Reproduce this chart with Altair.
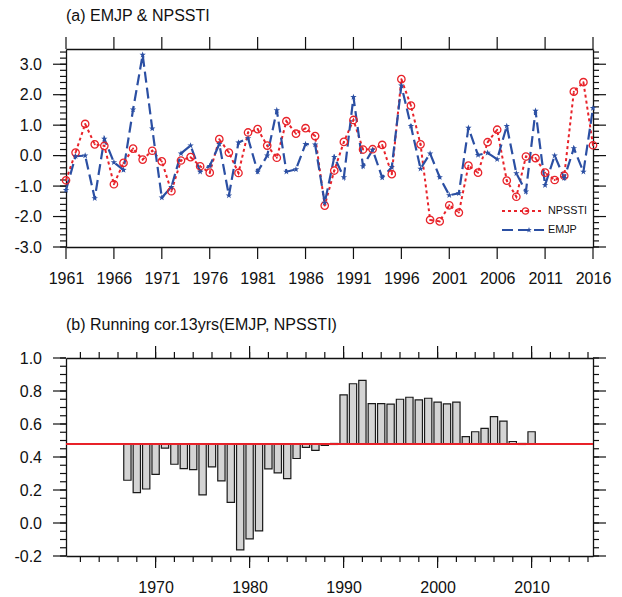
import altair as alt
import pandas as pd

# ---------------- data ----------------
years = list(range(1961, 2017))
npssti = [-0.81, 0.10, 1.04, 0.37, 0.32, -0.94, -0.24, 0.23, -0.13, 0.16,
          -0.19, -1.17, -0.16, -0.05, -0.35, -0.56, 0.54, 0.10, -0.57, 0.76,
          0.87, 0.33, -0.07, 1.13, 0.72, 0.90, 0.64, -1.64, -0.49, 0.45,
          1.17, 0.20, 0.21, 0.35, -0.61, 2.51, 1.64, 0.37, -2.11, -2.16,
          -1.63, -1.87, -0.33, -0.56, 0.44, 0.85, -0.82, -1.35, -0.03, -0.08,
          -0.56, -0.80, -0.66, 2.10, 2.41, 0.34]
emjp = [-1.13, -0.02, 0.00, -1.40, 0.55, -0.22, -0.47, 1.51, 3.31, 0.89,
        -1.38, -1.03, 0.07, 0.33, -0.53, -0.34, 0.38, -1.31, 0.43, 0.57,
        -0.53, 0.00, 1.49, -0.53, -0.45, 0.38, 0.36, -1.55, -0.05, -0.71,
        1.92, -0.35, 0.19, -0.72, -0.38, 2.30, 0.97, -0.43, 0.07, -0.71,
        -1.30, -1.24, 0.91, 0.02, 0.09, -0.12, 0.97, -0.58, -1.18, 1.47,
        -0.97, 0.00, -0.74, 0.24, -0.53, 1.56]

cor_years = list(range(1967, 2011))
cor_values = [0.259, 0.184, 0.206, 0.295, 0.454, 0.356, 0.330, 0.324, 0.170, 0.340,
              0.255, 0.125, -0.163, -0.096, -0.048, 0.328, 0.304, 0.269, 0.391, 0.458,
              0.440, 0.470, 0.482, 0.777, 0.844, 0.864, 0.724, 0.724, 0.720, 0.750,
              0.762, 0.746, 0.756, 0.732, 0.722, 0.732, 0.523, 0.553, 0.574, 0.645,
              0.618, 0.494, 0.482, 0.553]
threshold = 0.476

top_xticks = list(range(1961, 2017, 5))
top_ymajor = [-3.0, -2.0, -1.0, 0.0, 1.0, 2.0, 3.0]
top_yminor = [round(-3.0 + 0.2 * i, 1) for i in range(33)]
bot_xmajor = [1970, 1980, 1990, 2000, 2010]
bot_xminor = list(range(1962, 2017, 2))
bot_ymajor = [-0.2, 0.0, 0.2, 0.4, 0.6, 0.8, 1.0]
bot_yminor = [round(-0.2 + 0.05 * i, 2) for i in range(25)]

title_a = "(a) EMJP & NPSSTI"
title_b = "(b) Running cor.13yrs(EMJP, NPSSTI)"
legend_labels = ["NPSSTI", "EMJP"]

RED = "#e8232a"
BLUE = "#2b4fa3"
STAR = "M0,-1L0.235,-0.324L0.951,-0.309L0.38,0.124L0.588,0.809L0,0.4L-0.588,0.809L-0.38,0.124L-0.951,-0.309L-0.235,-0.324Z"
FONT = "Liberation Sans"
INK = "#111111"

df = pd.DataFrame({"year": years, "npssti": npssti, "emjp": emjp})
cdf = pd.DataFrame({"year": cor_years, "cor": cor_values,
                    "base": [threshold] * len(cor_years)})

W, H = 527, 198
MAJX, MAJY, MIN = 12, 13, 6
YLAB = "(datum.value < -0.0001 ? '-' : '') + format(abs(datum.value), '.1f')"


def axis(orient, labels=False, **kw):
    args = dict(orient=orient, title=None, grid=False, ticks=False,
                domain=True, domainWidth=1.3, domainColor=INK, labels=labels)
    if labels:
        args.update(labelFontSize=16, labelFont=FONT, labelColor=INK,
                    labelOverlap=False, labelFlush=False)
    args.update(kw)
    return alt.Axis(**args)


def ticks(values, scale, side, length, height):
    """Outward tick marks placed through the chart's own scale."""
    d = alt.Chart(pd.DataFrame({"v": values})).mark_rule(color=INK, strokeWidth=1.2)
    if side == "bottom":
        return d.encode(x=alt.X("v:Q", scale=scale, axis=None),
                        y=alt.value(height), y2=alt.value(height + length))
    if side == "top":
        return d.encode(x=alt.X("v:Q", scale=scale, axis=None),
                        y=alt.value(0), y2=alt.value(-length))
    if side == "left":
        return d.encode(y=alt.Y("v:Q", scale=scale, axis=None),
                        x=alt.value(0), x2=alt.value(-length))
    return d.encode(y=alt.Y("v:Q", scale=scale, axis=None),
                    x=alt.value(W), x2=alt.value(W + length))


# ---------------- top panel ----------------
xs_top = alt.Scale(domain=[1961, 2016], nice=False, zero=False)
ys_top = alt.Scale(domain=[-3.0, 3.5], nice=False, zero=False)

base_top = alt.Chart(df)
enc_red = dict(x=alt.X("year:Q", scale=xs_top, axis=None),
               y=alt.Y("npssti:Q", scale=ys_top, axis=None))
enc_blue = dict(x=alt.X("year:Q", scale=xs_top, axis=None),
                y=alt.Y("emjp:Q", scale=ys_top, axis=None))

frame_top_a = base_top.mark_point(opacity=0).encode(
    x=alt.X("year:Q", scale=xs_top,
            axis=axis("bottom", labels=True, values=top_xticks, format="d", labelPadding=23)),
    y=alt.Y("npssti:Q", scale=ys_top,
            axis=axis("left", labels=True, values=top_ymajor, labelExpr=YLAB,
                      labelPadding=24.5, minExtent=53, maxExtent=53)))
frame_top_b = base_top.mark_point(opacity=0).encode(
    x=alt.X("year:Q", scale=xs_top, axis=axis("top", values=top_xticks)),
    y=alt.Y("npssti:Q", scale=ys_top, axis=axis("right", values=top_ymajor)))

top_ticks = [
    ticks(top_xticks, xs_top, "bottom", MAJX, H),
    ticks(top_xticks, xs_top, "top", MAJX, H),
    ticks(top_ymajor, ys_top, "left", MAJY, H),
    ticks(top_ymajor, ys_top, "right", MAJY, H),
    ticks(top_yminor, ys_top, "left", MIN, H),
    ticks(top_yminor, ys_top, "right", MIN, H),
]

red_line = base_top.mark_line(color=RED, strokeDash=[3, 3], strokeWidth=2).encode(**enc_red)
red_circ = base_top.mark_point(shape="circle", filled=False, size=55, color=RED,
                               strokeWidth=1.3, opacity=1).encode(**enc_red)
red_dot = base_top.mark_point(shape="circle", filled=True, size=4, color=RED,
                              opacity=1).encode(**enc_red)
blue_line = base_top.mark_line(color=BLUE, strokeDash=[11, 5], strokeWidth=2.2).encode(**enc_blue)
blue_star = base_top.mark_point(shape=STAR, filled=True, size=45, color=BLUE,
                                opacity=1).encode(**enc_blue)

# in-plot legend (pixel positions inside the plot area)
one = alt.Data(values=[{"a": 1}])
lx0, lx1, ltx = 436, 478, 482
ly1, ly2 = 162, 181
leg_red = alt.Chart(one).mark_rule(color=RED, strokeDash=[3, 3], strokeWidth=2).encode(
    x=alt.value(lx0), x2=alt.value(lx1), y=alt.value(ly1))
leg_red_c = alt.Chart(one).mark_point(shape="circle", filled=False, size=40, color=RED,
                                      strokeWidth=1.3, opacity=1).encode(
    x=alt.value(459.5), y=alt.value(ly1))
leg_red_d = alt.Chart(one).mark_point(shape="circle", filled=True, size=3, color=RED,
                                      opacity=1).encode(x=alt.value(459.5), y=alt.value(ly1))
leg_red_t = alt.Chart(one).mark_text(text=legend_labels[0], align="left", baseline="middle",
                                     fontSize=10.8, font=FONT, color=INK).encode(
    x=alt.value(ltx), y=alt.value(ly1))
leg_blue = alt.Chart(one).mark_rule(color=BLUE, strokeDash=[11, 5], strokeWidth=2.2).encode(
    x=alt.value(lx0), x2=alt.value(lx1), y=alt.value(ly2))
leg_blue_s = alt.Chart(one).mark_point(shape=STAR, filled=True, size=35, color=BLUE,
                                       opacity=1).encode(x=alt.value(463), y=alt.value(ly2))
leg_blue_t = alt.Chart(one).mark_text(text=legend_labels[1], align="left", baseline="middle",
                                      fontSize=10.8, font=FONT, color=INK).encode(
    x=alt.value(ltx), y=alt.value(ly2))

top = alt.layer(frame_top_a, frame_top_b, *top_ticks,
                red_line, blue_line, red_circ, red_dot, blue_star,
                leg_red, leg_red_c, leg_red_d, leg_red_t,
                leg_blue, leg_blue_s, leg_blue_t).resolve_axis(
    x="independent", y="independent").properties(
    width=W, height=H,
    title=alt.TitleParams(title_a, anchor="start", frame="group", fontSize=16,
                          font=FONT, fontWeight="normal", color=INK, offset=12))

# ---------------- bottom panel ----------------
xs_bot = alt.Scale(domain=[1961, 2016], nice=False, zero=False)
ys_bot = alt.Scale(domain=[-0.2, 1.0], nice=False, zero=False)

base_bot = alt.Chart(cdf)
frame_bot_a = base_bot.mark_point(opacity=0).encode(
    x=alt.X("year:Q", scale=xs_bot,
            axis=axis("bottom", labels=True, values=bot_xmajor, format="d", labelPadding=23)),
    y=alt.Y("cor:Q", scale=ys_bot,
            axis=axis("left", labels=True, values=bot_ymajor, labelExpr=YLAB,
                      labelPadding=24.5, minExtent=53, maxExtent=53)))
frame_bot_b = base_bot.mark_point(opacity=0).encode(
    x=alt.X("year:Q", scale=xs_bot, axis=axis("top", values=bot_xmajor)),
    y=alt.Y("cor:Q", scale=ys_bot, axis=axis("right", values=bot_ymajor)))

bot_ticks = [
    ticks(bot_xmajor, xs_bot, "bottom", MAJX, H),
    ticks(bot_xmajor, xs_bot, "top", MAJX, H),
    ticks(bot_xminor, xs_bot, "bottom", MIN, H),
    ticks(bot_xminor, xs_bot, "top", MIN, H),
    ticks(bot_ymajor, ys_bot, "left", MAJY, H),
    ticks(bot_ymajor, ys_bot, "right", MAJY, H),
    ticks(bot_yminor, ys_bot, "left", MIN, H),
    ticks(bot_yminor, ys_bot, "right", MIN, H),
]

bars = base_bot.mark_bar(size=7.3, fill="#d4d4d4", stroke="#1a1a1a", strokeWidth=1.2).encode(
    x=alt.X("year:Q", scale=xs_bot, axis=None),
    y=alt.Y("cor:Q", scale=ys_bot, axis=None),
    y2="base:Q")
ref_rule = base_bot.mark_rule(color=RED, strokeWidth=1.2).encode(
    y=alt.YDatum(threshold, scale=ys_bot, axis=None))

bottom = alt.layer(frame_bot_a, frame_bot_b, *bot_ticks, bars, ref_rule).resolve_axis(
    x="independent", y="independent").properties(
    width=W, height=H,
    title=alt.TitleParams(title_b, anchor="start", frame="group", fontSize=16,
                          font=FONT, fontWeight="normal", color=INK, offset=12))

chart = alt.vconcat(top, bottom, spacing=31).properties(
    padding={"left": 13, "top": 8, "right": 5, "bottom": 5}
).configure(font=FONT).configure_view(stroke=None)

chart.save("out.html", embed_options={"renderer": "svg", "actions": False})
